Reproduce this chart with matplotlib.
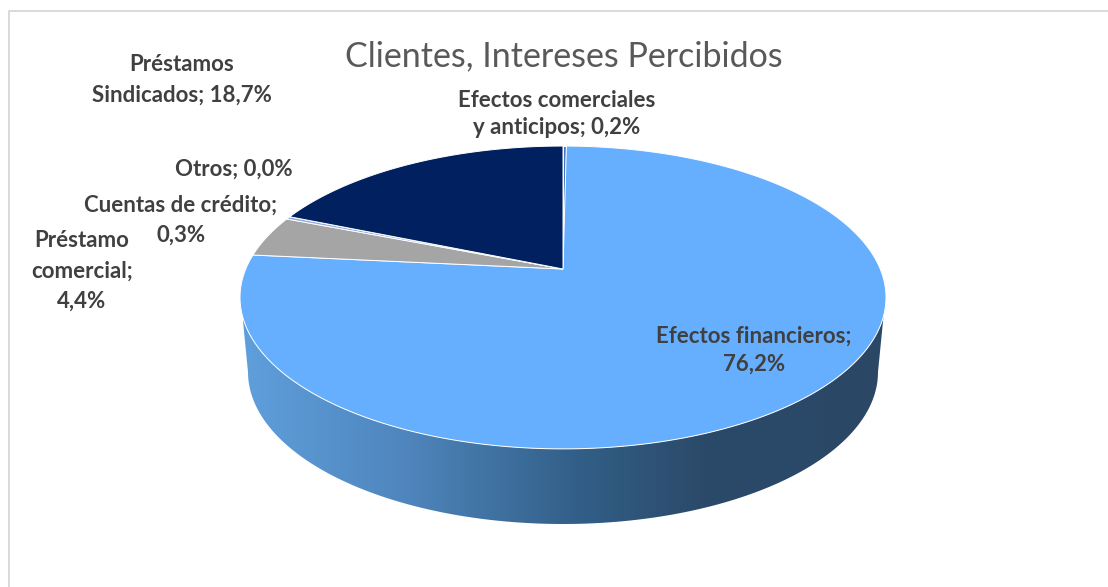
import numpy as np
import matplotlib
matplotlib.use("Agg")
import matplotlib.pyplot as plt
from matplotlib.colors import LinearSegmentedColormap
from matplotlib.patches import Polygon

plt.rcParams['font.family'] = ['Lato', 'DejaVu Sans']

title = "Clientes, Intereses Percibidos"
# clockwise from 12 o'clock
values = [0.2, 76.2, 4.4, 0.3, 0.0, 18.7]
labels = ["Efectos comerciales\ny anticipos; 0,2%", "Efectos financieros;\n76,2%",
          "Préstamo\ncomercial;\n4,4%", "Cuentas de crédito;\n0,3%",
          "Otros; 0,0%", "Préstamos\nSindicados; 18,7%"]
colors = ["#4472C4", "#66AFFF", "#A5A5A5", "#8FAADC", "#5B7FC0", "#002060"]
label_xy = [(557, 114), (754, 350), (82, 271), (181, 220), (234, 169), (182, 80)]
label_spacing = [1.38, 1.38, 1.55, 1.55, 1.2, 1.6]

# fake 3d: perspective map from the unit circle to pixels
CX = 563
A, B, C = -95.5, 269.0, 0.188
K = 323 * np.sqrt(1 - C ** 2)


def project(theta):
    u, v = np.sin(theta), np.cos(theta)
    d = 1 + C * v
    return CX + K * u / d, (A * v + B) / d


fig = plt.figure(figsize=(11.08, 5.87), dpi=100)
ax = fig.add_axes([0, 0, 1, 1])
ax.axis("off")

# chart frame
ax.plot([8.5, 8.5, 1108], [587, 10.5, 10.5], color="#D9D9D9", lw=1.4)

# side wall with horizontal gradient
t = np.linspace(np.pi / 2 + 0.31, 3 * np.pi / 2 - 0.31, 200)
top_x, top_y = project(t)
b = np.linspace(-np.pi, 0, 200)
bot_x, bot_y = CX + 315 * np.cos(b), 372 - 152 * np.sin(b)
side = np.column_stack([np.r_[top_x, bot_x], np.r_[top_y, bot_y]])
patch = Polygon(side, closed=True, facecolor="none", edgecolor="none")
ax.add_patch(patch)
cmap = LinearSegmentedColormap.from_list("side", [(0.0, "#5F9FDC"), (0.25, "#4F86BD"),
                                                  (0.52, "#325F88"), (0.72, "#2B4A69"),
                                                  (1.0, "#2A4766")])
grad = np.linspace(0, 1, 256).reshape(1, -1)
im = ax.imshow(grad, cmap=cmap, extent=(243, 884, 530, 290), aspect="auto", zorder=2)
im.set_clip_path(patch)
ax.set_xlim(0, 1108)
ax.set_ylim(587, 0)

# top of the pie
edges = np.r_[0, np.cumsum(values)] / np.sum(values) * 2 * np.pi
for i, col in enumerate(colors):
    th = np.linspace(edges[i], edges[i + 1], 300)
    x, y = project(th)
    ax.fill(np.r_[CX, x], np.r_[B, y], facecolor=col, edgecolor="white", lw=0.7, zorder=3)

ax.text(563.5, 56, title, ha="center", va="center", fontsize=24.5, color="#595959")
for lab, (lx, ly), sp in zip(labels, label_xy, label_spacing):
    ax.text(lx, ly, lab, ha="center", va="center", fontsize=16, fontweight="bold",
            color="#404040", linespacing=sp, zorder=5)

fig.savefig("out.png", dpi=100)
